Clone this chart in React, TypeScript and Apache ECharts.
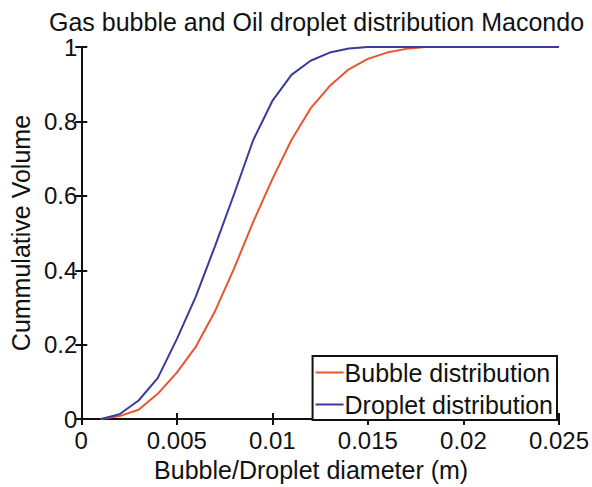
import React, { useEffect, useRef } from "react";
import * as echarts from "echarts";

const diameters = [0.001, 0.002, 0.003, 0.004, 0.005, 0.006, 0.007, 0.008, 0.009, 0.010, 0.011, 0.012, 0.013, 0.014, 0.015, 0.016, 0.017, 0.018, 0.019, 0.020, 0.021, 0.022, 0.023, 0.024, 0.025];
const bubble = [0, 0.008, 0.025, 0.068, 0.125, 0.195, 0.29, 0.405, 0.53, 0.645, 0.75, 0.835, 0.895, 0.94, 0.968, 0.985, 0.995, 1, 1, 1, 1, 1, 1, 1, 1];
const droplet = [0, 0.013, 0.05, 0.11, 0.215, 0.33, 0.465, 0.605, 0.75, 0.855, 0.925, 0.963, 0.985, 0.996, 1, 1, 1, 1, 1, 1, 1, 1, 1, 1, 1];
const xTicks = ["0", "0.005", "0.01", "0.015", "0.02", "0.025"];
const yTicks = ["0", "0.2", "0.4", "0.6", "0.8", "1"];

const FONT = '"Liberation Sans", Arial, Helvetica, sans-serif';
const RED = "#e8552e";
const BLUE = "#3a3c9a";

export default function App() {
  const ref = useRef<HTMLDivElement>(null);
  useEffect(() => {
    if (!ref.current) return;
    const chart = echarts.init(ref.current, undefined, { renderer: "svg" });
    const axisLine = { show: true, lineStyle: { color: "#111", width: 2 } };
    const tick = { show: true, inside: true, length: 6, lineStyle: { color: "#111", width: 2 } };
    const lbl = { fontFamily: FONT, fontSize: 24, color: "#111" };
    chart.setOption({
      animation: false,
      backgroundColor: "#fff",
      title: {
        text: "Gas bubble and Oil droplet distribution Macondo",
        left: 44,
        top: 4,
        textStyle: { fontFamily: FONT, fontSize: 25, fontWeight: "normal", color: "#111" },
      },
      grid: { left: 79, right: 33, top: 47, bottom: 61, containLabel: false },
      legend: {
        right: 35,
        bottom: 67,
        orient: "vertical",
        backgroundColor: "#fff",
        borderColor: "#111",
        borderWidth: 2,
        borderRadius: 0,
        padding: [4, 4, 3, 3],
        itemGap: 7,
        itemWidth: 28,
        itemHeight: 2,
        textStyle: { fontFamily: FONT, fontSize: 25, color: "#111", padding: [0, 0, 0, -4] },
        data: [
          { name: "Bubble distribution", icon: "rect" },
          { name: "Droplet distribution", icon: "rect" },
        ],
      },
      xAxis: [
        {
          type: "value",
          min: 0,
          max: 0.025,
          interval: 0.005,
          axisLine,
          axisTick: tick,
          splitLine: { show: false },
          axisLabel: { ...lbl, margin: 9, formatter: (v: number) => xTicks[Math.round(v / 0.005)] },
          name: "Bubble/Droplet diameter (m)",
          nameLocation: "middle",
          nameGap: 36,
          nameTextStyle: { fontFamily: FONT, fontSize: 25, color: "#111", padding: [0, 18, 0, 0] },
        },
        {
          type: "value",
          position: "top",
          min: 0,
          max: 0.025,
          interval: 0.005,
          axisLine,
          axisTick: tick,
          splitLine: { show: false },
          axisLabel: { show: false },
        },
      ],
      yAxis: [
        {
          type: "value",
          min: 0,
          max: 1,
          interval: 0.2,
          axisLine,
          axisTick: tick,
          splitLine: { show: false },
          axisLabel: { ...lbl, margin: 4, formatter: (v: number) => yTicks[Math.round(v / 0.2)] },
          name: "Cummulative Volume",
          nameLocation: "middle",
          nameGap: 41,
          nameTextStyle: { fontFamily: FONT, fontSize: 25, color: "#111" },
        },
        {
          type: "value",
          position: "right",
          min: 0,
          max: 1,
          interval: 0.2,
          axisLine,
          axisTick: tick,
          splitLine: { show: false },
          axisLabel: { show: false },
        },
      ],
      series: [
        {
          name: "Bubble distribution",
          type: "line",
          data: diameters.map((d, i) => [d, bubble[i]]),
          showSymbol: false,
          symbol: "none",
          lineStyle: { color: RED, width: 2 },
          itemStyle: { color: RED },
          z: 3,
        },
        {
          name: "Droplet distribution",
          type: "line",
          data: diameters.map((d, i) => [d, droplet[i]]),
          showSymbol: false,
          symbol: "none",
          lineStyle: { color: BLUE, width: 2 },
          itemStyle: { color: BLUE },
          z: 4,
        },
      ],
    });
    return () => chart.dispose();
  }, []);
  return <div ref={ref} style={{ width: 592, height: 487, position: "absolute", left: 0, top: 0 }} />;
}
